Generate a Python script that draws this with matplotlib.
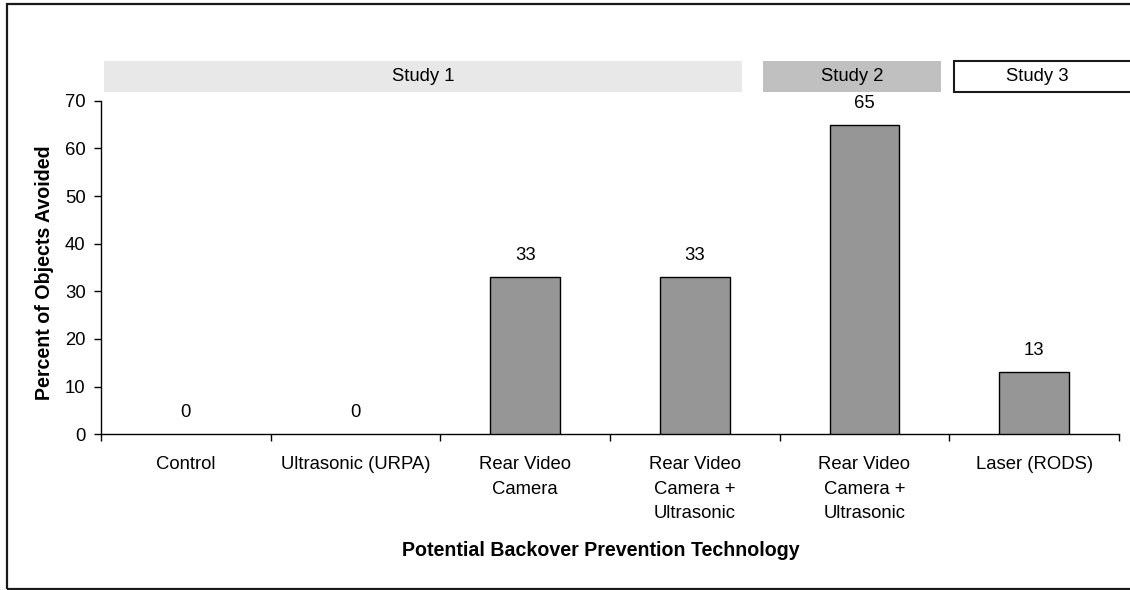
import matplotlib
matplotlib.use("Agg")
import matplotlib.pyplot as plt
from matplotlib.patches import Rectangle

plt.rcParams['font.family'] = ['Liberation Sans', 'DejaVu Sans']

categories = ["Control", "Ultrasonic (URPA)", "Rear Video\nCamera",
              "Rear Video\nCamera +\nUltrasonic", "Rear Video\nCamera +\nUltrasonic",
              "Laser (RODS)"]
values = [0, 0, 33, 33, 65, 13]
studies = ["Study 1", "Study 2", "Study 3"]
y_ticks = [0, 10, 20, 30, 40, 50, 60, 70]
x_label = "Potential Backover Prevention Technology"
y_label = "Percent of Objects Avoided"

FS = 13.3
FSB = 14.1

W, H = 1130, 590
fig = plt.figure(figsize=(W / 100, H / 100), dpi=100)

# axes placement (pixels)
ax_l, ax_r, ax_t, ax_b = 101, 1119, 100.7, 434.3
ax = fig.add_axes([ax_l / W, 1 - ax_b / H, (ax_r - ax_l) / W, (ax_b - ax_t) / H])

x = list(range(len(categories)))
edge = ["black" if v > 0 else "none" for v in values]
ax.bar(x, values, width=0.41, color="#969696", edgecolor=edge, linewidth=1.0, zorder=3)
for xi, v in zip(x, values):
    ax.annotate(str(v), (xi, v), xytext=(0, 15.5), textcoords="offset points",
                ha="center", va="center", fontsize=FS)

ax.set_xlim(-0.5, len(categories) - 0.5)
ax.set_ylim(0, 70)
ax.set_yticks(y_ticks)
ax.set_xticks(x)
ax.set_xticklabels(categories, fontsize=FS, linespacing=1.6)
ax.set_xticks([i - 0.5 for i in range(len(categories) + 1)], minor=True)
ax.tick_params(axis="x", which="major", length=0, pad=15.5)
ax.tick_params(axis="x", which="minor", length=5, width=1.0, direction="out")
ax.tick_params(axis="y", length=5, width=1.0, direction="out", labelsize=FS, pad=6)
for s in ["top", "right"]:
    ax.spines[s].set_visible(False)
for s in ["left", "bottom"]:
    ax.spines[s].set_linewidth(1.0)

# axis titles
fig.text(600.5 / W, 1 - 551 / H, x_label, ha="center", va="center",
         fontsize=FSB, fontweight="bold")
fig.text(45 / W, 1 - 273 / H, y_label, ha="center", va="center",
         rotation=90, fontsize=FSB, fontweight="bold")

# study bands (pixel layout)
band_specs = [(104, 742, "#e8e8e8", "none", 423),
              (763, 941, "#c0c0c0", "none", 852),
              (954, 1140, "white", "#1a1a1a", 1037)]
bt, bb = 61, 92
for (x0, x1, fc, ec, cx), name in zip(band_specs, studies):
    fig.patches.append(Rectangle((x0 / W, 1 - bb / H), (x1 - x0) / W, (bb - bt) / H,
                                 transform=fig.transFigure, facecolor=fc,
                                 edgecolor=ec, linewidth=1.5))
    fig.text(cx / W, 1 - 76.5 / H, name, ha="center", va="center", fontsize=FS)

# outer border
fig.patches.append(Rectangle((7 / W, 1 - 589 / H), 1140 / W, 585 / H,
                             transform=fig.transFigure, facecolor="none",
                             edgecolor="#1a1a1a", linewidth=1.6))

fig.savefig("out.png", dpi=100)
